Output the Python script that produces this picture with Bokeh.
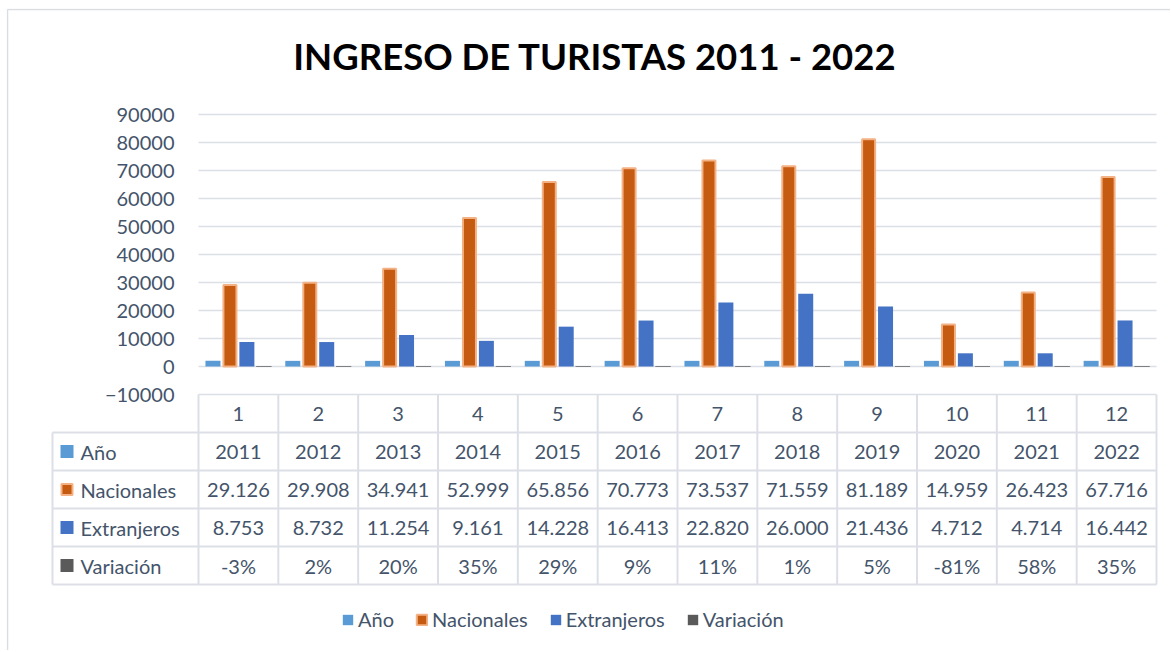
from bokeh.plotting import figure
from bokeh.models import (Range1d, FixedTicker, Legend, LegendItem, ColumnDataSource,
                          Label, LinearAxis)
from bokeh.core.properties import value
from bokeh.embed import file_html
from bokeh.resources import INLINE

# ---------------- data ----------------
categories = ["1", "2", "3", "4", "5", "6", "7", "8", "9", "10", "11", "12"]
anio = [2011, 2012, 2013, 2014, 2015, 2016, 2017, 2018, 2019, 2020, 2021, 2022]
nacionales = [29126, 29908, 34941, 52999, 65856, 70773, 73537, 71559, 81189, 14959, 26423, 67716]
extranjeros = [8753, 8732, 11254, 9161, 14228, 16413, 22820, 26000, 21436, 4712, 4714, 16442]
variacion = [-0.03, 0.02, 0.20, 0.35, 0.29, 0.09, 0.11, 0.01, 0.05, -0.81, 0.58, 0.35]
series_names = ["Año", "Nacionales", "Extranjeros", "Variación"]
y_ticks = [-10000, 0, 10000, 20000, 30000, 40000, 50000, 60000, 70000, 80000, 90000]
title_text = "INGRESO DE TURISTAS 2011 - 2022"

# ---------------- style ----------------
FONT = "Lato"
TEXT = "#44546A"
GRID = "#DCE0E6"
BORDER = "#DADDE2"
FILL = {"Año": "#5B9BD5", "Nacionales": "#C55A11", "Extranjeros": "#4472C4", "Variación": "#5A5A5A"}
EDGE = {"Nacionales": "#F4B183", "Variación": "#808080"}

# ---------------- geometry (pixels) ----------------
W, H = 1170, 650
n = len(categories)
xs = list(range(1, n + 1))
col_px = (1156 - 198) / n          # pixel width of one category column
PLOT_LEFT = 198                    # left edge of the category columns
ZERO_Y = 366                       # pixel row of value 0
px_per_val = 28 / 10000            # pixels per data unit in the bar area
HDR_TOP = 394                      # top of the data-table header row
ROW = 38                           # data-table row height
FL, FT = 6, 8                      # frame left / top

def xu(px):
    return 0.5 + (px - PLOT_LEFT) / col_px

def yv(py):
    return (ZERO_Y - py) / px_per_val

def yr(py):
    return (py - HDR_TOP) / ROW

p = figure(width=W, height=H, output_backend="svg", toolbar_location=None,
           x_range=Range1d(xu(FL), xu(W)), y_range=Range1d(yv(H), yv(FT)),
           min_border_left=FL, min_border_right=0, min_border_top=FT, min_border_bottom=0,
           x_axis_location=None, outline_line_color=None, border_fill_color="white",
           background_fill_color="white")
p.extra_y_ranges = {"tbl": Range1d(yr(H), yr(FT))}
p.xgrid.grid_line_color = None
p.ygrid.grid_line_color = None

# value axis (labels pushed into the chart area, right edge at x=174)
p.yaxis.ticker = FixedTicker(ticks=y_ticks)
p.yaxis.axis_line_color = None
p.yaxis.major_tick_line_color = None
p.yaxis.minor_tick_line_color = None
p.yaxis.major_tick_out = 0
p.yaxis.major_tick_in = 0
p.yaxis.major_label_standoff = -(174 - FL)
p.yaxis.major_label_text_font = FONT
p.yaxis.major_label_text_font_size = "20px"
p.yaxis.major_label_text_color = TEXT

# chart border (left and top)
bx = xu(7)
by = yr(9)
p.segment(x0=[bx, bx], y0=[by, by], x1=[bx, xu(W)], y1=[yr(H), by], y_range_name="tbl",
          line_color=BORDER, line_width=1.5)

# horizontal gridlines over the category area
p.segment(x0=[0.5] * len(y_ticks), y0=y_ticks, x1=[n + 0.5] * len(y_ticks), y1=y_ticks,
          line_color=GRID, line_width=1.5)

# title
p.add_layout(Label(x=xu(594.5), y=yv(55), text=title_text, text_align="center",
                   text_baseline="alphabetic", text_font=FONT, text_font_size="36.5px",
                   text_font_style="bold", text_color="#000000"))

# bars
bar_w = 15 / col_px
offsets = [-0.319, -0.106, 0.106, 0.319]
values = [anio, nacionales, extranjeros, variacion]
for name, off, vals in zip(series_names, offsets, values):
    src = ColumnDataSource(dict(x=[x + off for x in xs], top=vals, cat=categories))
    if name == "Nacionales":
        p.vbar(x="x", top="top", bottom=0, width=bar_w - 2 / col_px, source=src,
               fill_color=FILL[name], line_color=EDGE[name], line_width=2)
    elif name == "Variación":
        p.vbar(x="x", top="top", bottom=0, width=bar_w, source=src,
               fill_color=FILL[name], line_color=EDGE[name], line_width=1)
    else:
        p.vbar(x="x", top="top", bottom=0, width=bar_w, source=src,
               fill_color=FILL[name], line_color=None)

# ---------------- data table ----------------
tbl_left = xu(52)
edges = [i + 0.5 for i in range(0, n + 1)]
p.segment(x0=edges, y0=[0] * len(edges), x1=edges, y1=[5] * len(edges), y_range_name="tbl",
          line_color=GRID, line_width=2)
p.segment(x0=[tbl_left], y0=[1], x1=[tbl_left], y1=[5], y_range_name="tbl",
          line_color=GRID, line_width=2)
hy = [1, 2, 3, 4, 5]
p.segment(x0=[tbl_left] * len(hy), y0=hy, x1=[n + 0.5] * len(hy), y1=hy, y_range_name="tbl",
          line_color=GRID, line_width=2)

def fmt_thousands(v):
    return f"{v:,}".replace(",", ".")

row_texts = [
    [str(v) for v in anio],
    [fmt_thousands(v) for v in nacionales],
    [fmt_thousands(v) for v in extranjeros],
    [f"{round(v * 100)}%" for v in variacion],
]

p.text(x=xs, y=[0.5] * n, text=categories, y_range_name="tbl", text_align="center",
       text_baseline="middle", text_font=value(FONT), text_font_size="20px", text_color=TEXT)
for k, texts in enumerate(row_texts):
    p.text(x=xs, y=[k + 1.5] * n, text=texts, y_range_name="tbl", text_align="center",
           text_baseline="middle", text_font=value(FONT), text_font_size="20px", text_color=TEXT)

p.text(x=[xu(80)] * 4, y=[k + 1.5 for k in range(4)], text=series_names, y_range_name="tbl",
       text_align="left", text_baseline="middle", text_font=value(FONT), text_font_size="20px",
       text_color=TEXT)

sq_x = xu(66.5)
legend_items = []
for k, name in enumerate(series_names):
    if name == "Nacionales":
        r = p.rect(x=[sq_x], y=[k + 1.5], width=11, height=11, width_units="screen",
                   height_units="screen", y_range_name="tbl",
                   fill_color=FILL[name], line_color=EDGE[name], line_width=2)
    else:
        r = p.rect(x=[sq_x], y=[k + 1.5], width=13, height=13, width_units="screen",
                   height_units="screen", y_range_name="tbl",
                   fill_color=FILL[name], line_color=None)
    legend_items.append(LegendItem(label=name, renderers=[r]))

legend = Legend(items=legend_items, orientation="horizontal", location=(341 - FL, H - 620 - 11),
                glyph_width=13, glyph_height=13, label_standoff=4, spacing=21,
                padding=0, margin=0, border_line_color=None, background_fill_alpha=0,
                label_text_font=FONT, label_text_font_size="20px", label_text_color=TEXT)
p.add_layout(legend)

open("out.html", "w").write(file_html(p, INLINE))
